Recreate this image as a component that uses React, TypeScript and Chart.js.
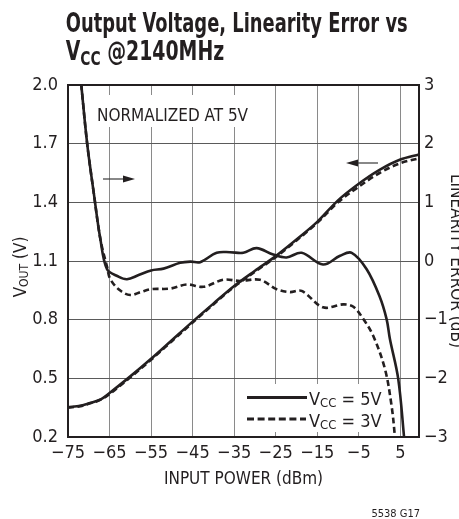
import React, { useEffect, useRef } from "react";
import { Chart, registerables } from "chart.js";

Chart.register(...registerables);

const FONT = "'Liberation Sans Narrow','DejaVu Sans Condensed','Arial Narrow','Liberation Sans',sans-serif";
const INK = "#231f20";

// Axis ticks
const xTicks = [-75, -65, -55, -45, -35, -25, -15, -5, 5];
const voutTicks = [0.2, 0.5, 0.8, 1.1, 1.4, 1.7, 2.0];
const errTicks = [-3, -2, -1, 0, 1, 2, 3];

// Output voltage vs input power (dBm)
const powerVout = [-75, -72, -70, -67, -65, -60, -55, -50, -45, -40, -35, -30, -25, -20, -15, -10, -5, 0, 5, 9.5];
const vout5V = [0.352, 0.36, 0.372, 0.394, 0.425, 0.51, 0.6, 0.695, 0.79, 0.882, 0.972, 1.05, 1.125, 1.21, 1.3, 1.41, 1.495, 1.566, 1.619, 1.645];
const vout3V = [0.35, 0.358, 0.37, 0.392, 0.42, 0.505, 0.595, 0.69, 0.785, 0.878, 0.968, 1.045, 1.12, 1.205, 1.295, 1.4, 1.48, 1.55, 1.6, 1.625];

// Linearity error (dB)
const powerErr5V = [-72.5, -71.8, -70.4, -68.8, -67.2, -65.6, -63, -60.8, -58, -55, -52, -48, -45.5, -43.2, -39.2, -36, -32.8, -29.6, -25.6, -22.4, -18.75, -13.6, -9.5, -6.7, -3.1, 0, 1.7, 2.5, 4.5, 5.9, 6.5];
const err5V = [3.5, 3.0, 2.01, 1.16, 0.37, -0.14, -0.26, -0.31, -0.24, -0.16, -0.13, -0.03, -0.01, -0.02, 0.14, 0.15, 0.14, 0.22, 0.11, 0.06, 0.14, -0.06, 0.09, 0.14, -0.14, -0.6, -0.99, -1.33, -2.01, -3.0, -3.5];
const powerErr3V = [-72.5, -71.8, -70.4, -68.8, -67.2, -65.6, -64.8, -62.5, -60, -57.5, -55, -50.4, -46.4, -42.4, -37.6, -33.6, -28.8, -24.8, -21.6, -18.75, -13.6, -8.75, -6.3, -3.9, -1.5, 1.3, 2.9, 3.7, 4.2];
const err3V = [3.5, 3.0, 2.01, 1.16, 0.37, -0.1, -0.31, -0.5, -0.58, -0.53, -0.48, -0.47, -0.4, -0.44, -0.32, -0.34, -0.32, -0.48, -0.53, -0.51, -0.79, -0.74, -0.78, -0.99, -1.28, -1.84, -2.47, -3.0, -3.5];

const seriesLabels = ["5V", "3V"];

const toXY = (xs: number[], ys: number[]) => xs.map((x, i) => ({ x, y: ys[i] }));
const fmtSigned = (v: number) => (v < 0 ? "\u2212" + Math.abs(v) : String(v));

function drawSub(
  ctx: CanvasRenderingContext2D,
  parts: { t: string; size: number; dy: number; bold?: boolean }[],
  x: number,
  y: number,
  measureOnly = false
) {
  let cx = x;
  for (const p of parts) {
    ctx.font = `${p.bold ? "bold " : ""}${p.size}px ${FONT}`;
    if (!measureOnly) ctx.fillText(p.t, cx, y + p.dy);
    cx += ctx.measureText(p.t).width;
  }
  return cx - x;
}

function arrow(ctx: CanvasRenderingContext2D, x0: number, x1: number, y: number) {
  const dir = Math.sign(x1 - x0);
  ctx.save();
  ctx.strokeStyle = "#3a3a3a";
  ctx.fillStyle = INK;
  ctx.lineWidth = 1.2;
  ctx.beginPath();
  ctx.moveTo(x0, y);
  ctx.lineTo(x1 - dir * 10, y);
  ctx.stroke();
  ctx.beginPath();
  ctx.moveTo(x1, y);
  ctx.lineTo(x1 - dir * 12, y - 3.5);
  ctx.lineTo(x1 - dir * 12, y + 3.5);
  ctx.closePath();
  ctx.fill();
  ctx.restore();
}

const decor = {
  id: "decor",
  beforeDatasetsDraw(chart: any) {
    const ctx: CanvasRenderingContext2D = chart.ctx;
    ctx.save();
    // NORMALIZED label
    ctx.fillStyle = "#fff";
    ctx.fillRect(95, 95, 157, 32);
    ctx.fillStyle = INK;
    ctx.font = `17px ${FONT}`;
    ctx.textBaseline = "alphabetic";
    ctx.textAlign = "left";
    ctx.fillText("NORMALIZED AT 5V", 97, 121);
    // arrows
    arrow(ctx, 103, 135, 179);
    arrow(ctx, 378, 346, 163);
    // legend
    ctx.fillStyle = "#fff";
    ctx.fillRect(240, 384, 145, 48);
    ctx.strokeStyle = INK;
    ctx.lineWidth = 2.8;
    ctx.beginPath();
    ctx.moveTo(247, 397.5);
    ctx.lineTo(307, 397.5);
    ctx.stroke();
    ctx.setLineDash([7, 3.6]);
    ctx.beginPath();
    ctx.moveTo(247, 419);
    ctx.lineTo(306, 419);
    ctx.stroke();
    ctx.setLineDash([]);
    ctx.fillStyle = INK;
    drawSub(ctx, [{ t: "V", size: 18, dy: 0 }, { t: "CC", size: 13, dy: 2 }, { t: " = " + seriesLabels[0], size: 18, dy: 0 }], 309, 405);
    drawSub(ctx, [{ t: "V", size: 18, dy: 0 }, { t: "CC", size: 13, dy: 2 }, { t: " = " + seriesLabels[1], size: 18, dy: 0 }], 309, 427);
    ctx.restore();
  },
  afterDraw(chart: any) {
    const ctx: CanvasRenderingContext2D = chart.ctx;
    const a = chart.chartArea;
    ctx.save();
    // frame
    ctx.strokeStyle = INK;
    ctx.lineWidth = 2;
    ctx.strokeRect(a.left, a.top, a.right - a.left, a.bottom - a.top);
    ctx.fillStyle = INK;
    ctx.textAlign = "left";
    ctx.textBaseline = "alphabetic";
    // title
    const line1 = "Output Voltage, Linearity Error vs";
    ctx.font = `bold 26px ${FONT}`;
    const w1 = ctx.measureText(line1).width;
    const s1 = 342 / w1;
    ctx.save();
    ctx.translate(65.7, 32);
    ctx.scale(s1, 1);
    ctx.fillText(line1, 0, 0);
    ctx.restore();
    const parts2 = [
      { t: "V", size: 26, dy: 0, bold: true },
      { t: "CC", size: 19, dy: 5, bold: true },
      { t: " @2140MHz", size: 26, dy: 0, bold: true },
    ];
    const w2 = drawSub(ctx, parts2, 0, 0, true);
    ctx.save();
    ctx.translate(65.7, 60);
    ctx.scale(158.5 / w2, 1);
    drawSub(ctx, parts2, 0, 0);
    ctx.restore();
    // left axis title
    const lp = [
      { t: "V", size: 17, dy: 0 },
      { t: "OUT", size: 12, dy: 2 },
      { t: " (V)", size: 17, dy: 0 },
    ];
    const lw = drawSub(ctx, lp, 0, 0, true);
    ctx.save();
    ctx.translate(26, (a.top + a.bottom) / 2 + 6);
    ctx.rotate(-Math.PI / 2);
    drawSub(ctx, lp, -lw / 2, 0);
    ctx.restore();
    // right axis title
    ctx.save();
    ctx.translate(451, (a.top + a.bottom) / 2);
    ctx.rotate(Math.PI / 2);
    ctx.font = `17px ${FONT}`;
    ctx.textAlign = "center";
    ctx.fillText("LINEARITY ERROR (dB)", 0, 0);
    ctx.restore();
    // x axis title
    ctx.font = `17px ${FONT}`;
    ctx.textAlign = "center";
    ctx.fillText("INPUT POWER (dBm)", (a.left + a.right) / 2, 484);
    // footnote
    ctx.font = `11px ${FONT}`;
    ctx.textAlign = "right";
    ctx.fillText("5538 G17", 420, 517);
    ctx.restore();
  },
};

export default function App() {
  const ref = useRef<HTMLCanvasElement | null>(null);
  useEffect(() => {
    if (!ref.current) return;
    const tickFont = { family: FONT, size: 18 };
    const chart = new Chart(ref.current, {
      type: "line",
      data: {
        datasets: [
          {
            label: "VOUT 5V",
            data: toXY(powerVout, vout5V),
            yAxisID: "y",
            borderColor: INK,
            borderWidth: 2.6,
            pointRadius: 0,
            cubicInterpolationMode: "monotone",
            clip: 1,
          },
          {
            label: "VOUT 3V",
            data: toXY(powerVout, vout3V),
            yAxisID: "y",
            borderColor: INK,
            borderWidth: 2.6,
            borderDash: [6, 3.5],
            pointRadius: 0,
            cubicInterpolationMode: "monotone",
            clip: 1,
          },
          {
            label: "Error 5V",
            data: toXY(powerErr5V, err5V),
            yAxisID: "y1",
            borderColor: INK,
            borderWidth: 2.6,
            pointRadius: 0,
            tension: 0.35,
            clip: 1,
          },
          {
            label: "Error 3V",
            data: toXY(powerErr3V, err3V),
            yAxisID: "y1",
            borderColor: INK,
            borderWidth: 2.6,
            borderDash: [6, 3.5],
            pointRadius: 0,
            tension: 0.35,
            clip: 1,
          },
        ] as any,
      },
      options: {
        responsive: false,
        animation: false,
        devicePixelRatio: 1,
        layout: { padding: { top: 85, left: 0, right: 0, bottom: 0 } },
        plugins: { legend: { display: false }, tooltip: { enabled: false }, title: { display: false } },
        scales: {
          x: {
            type: "linear",
            min: -75,
            max: 9.5,
            afterBuildTicks: (s: any) => {
              s.ticks = xTicks.map((v) => ({ value: v }));
            },
            afterFit: (s: any) => {
              s.height = 82;
            },
            grid: { color: "#8a8a8a", lineWidth: 1, drawTicks: false },
            border: { display: false },
            ticks: {
              font: tickFont,
              color: INK,
              padding: 6,
              autoSkip: false,
              maxRotation: 0,
              callback: (v: any) => fmtSigned(Number(v)),
            },
          },
          y: {
            type: "linear",
            position: "left",
            min: 0.2,
            max: 2.0,
            afterBuildTicks: (s: any) => {
              s.ticks = voutTicks.map((v) => ({ value: v }));
            },
            afterFit: (s: any) => {
              s.width = 68;
            },
            grid: { color: "#5a5a5a", lineWidth: 1, drawTicks: false },
            border: { display: false },
            ticks: {
              font: tickFont,
              color: INK,
              padding: 10,
              callback: (v: any) => Number(v).toFixed(1),
            },
          },
          y1: {
            type: "linear",
            position: "right",
            min: -3,
            max: 3,
            afterBuildTicks: (s: any) => {
              s.ticks = errTicks.map((v) => ({ value: v }));
            },
            afterFit: (s: any) => {
              s.width = 40;
            },
            grid: { display: false, drawTicks: false },
            border: { display: false },
            ticks: {
              font: tickFont,
              color: INK,
              padding: 5,
              callback: (v: any) => fmtSigned(Number(v)),
            },
          },
        },
      } as any,
      plugins: [decor],
    });
    return () => chart.destroy();
  }, []);
  return (
    <div style={{ position: "absolute", left: 0, top: 0, width: 459, height: 519, background: "#fff" }}>
      <canvas ref={ref} width={459} height={519} style={{ display: "block" }} />
    </div>
  );
}
